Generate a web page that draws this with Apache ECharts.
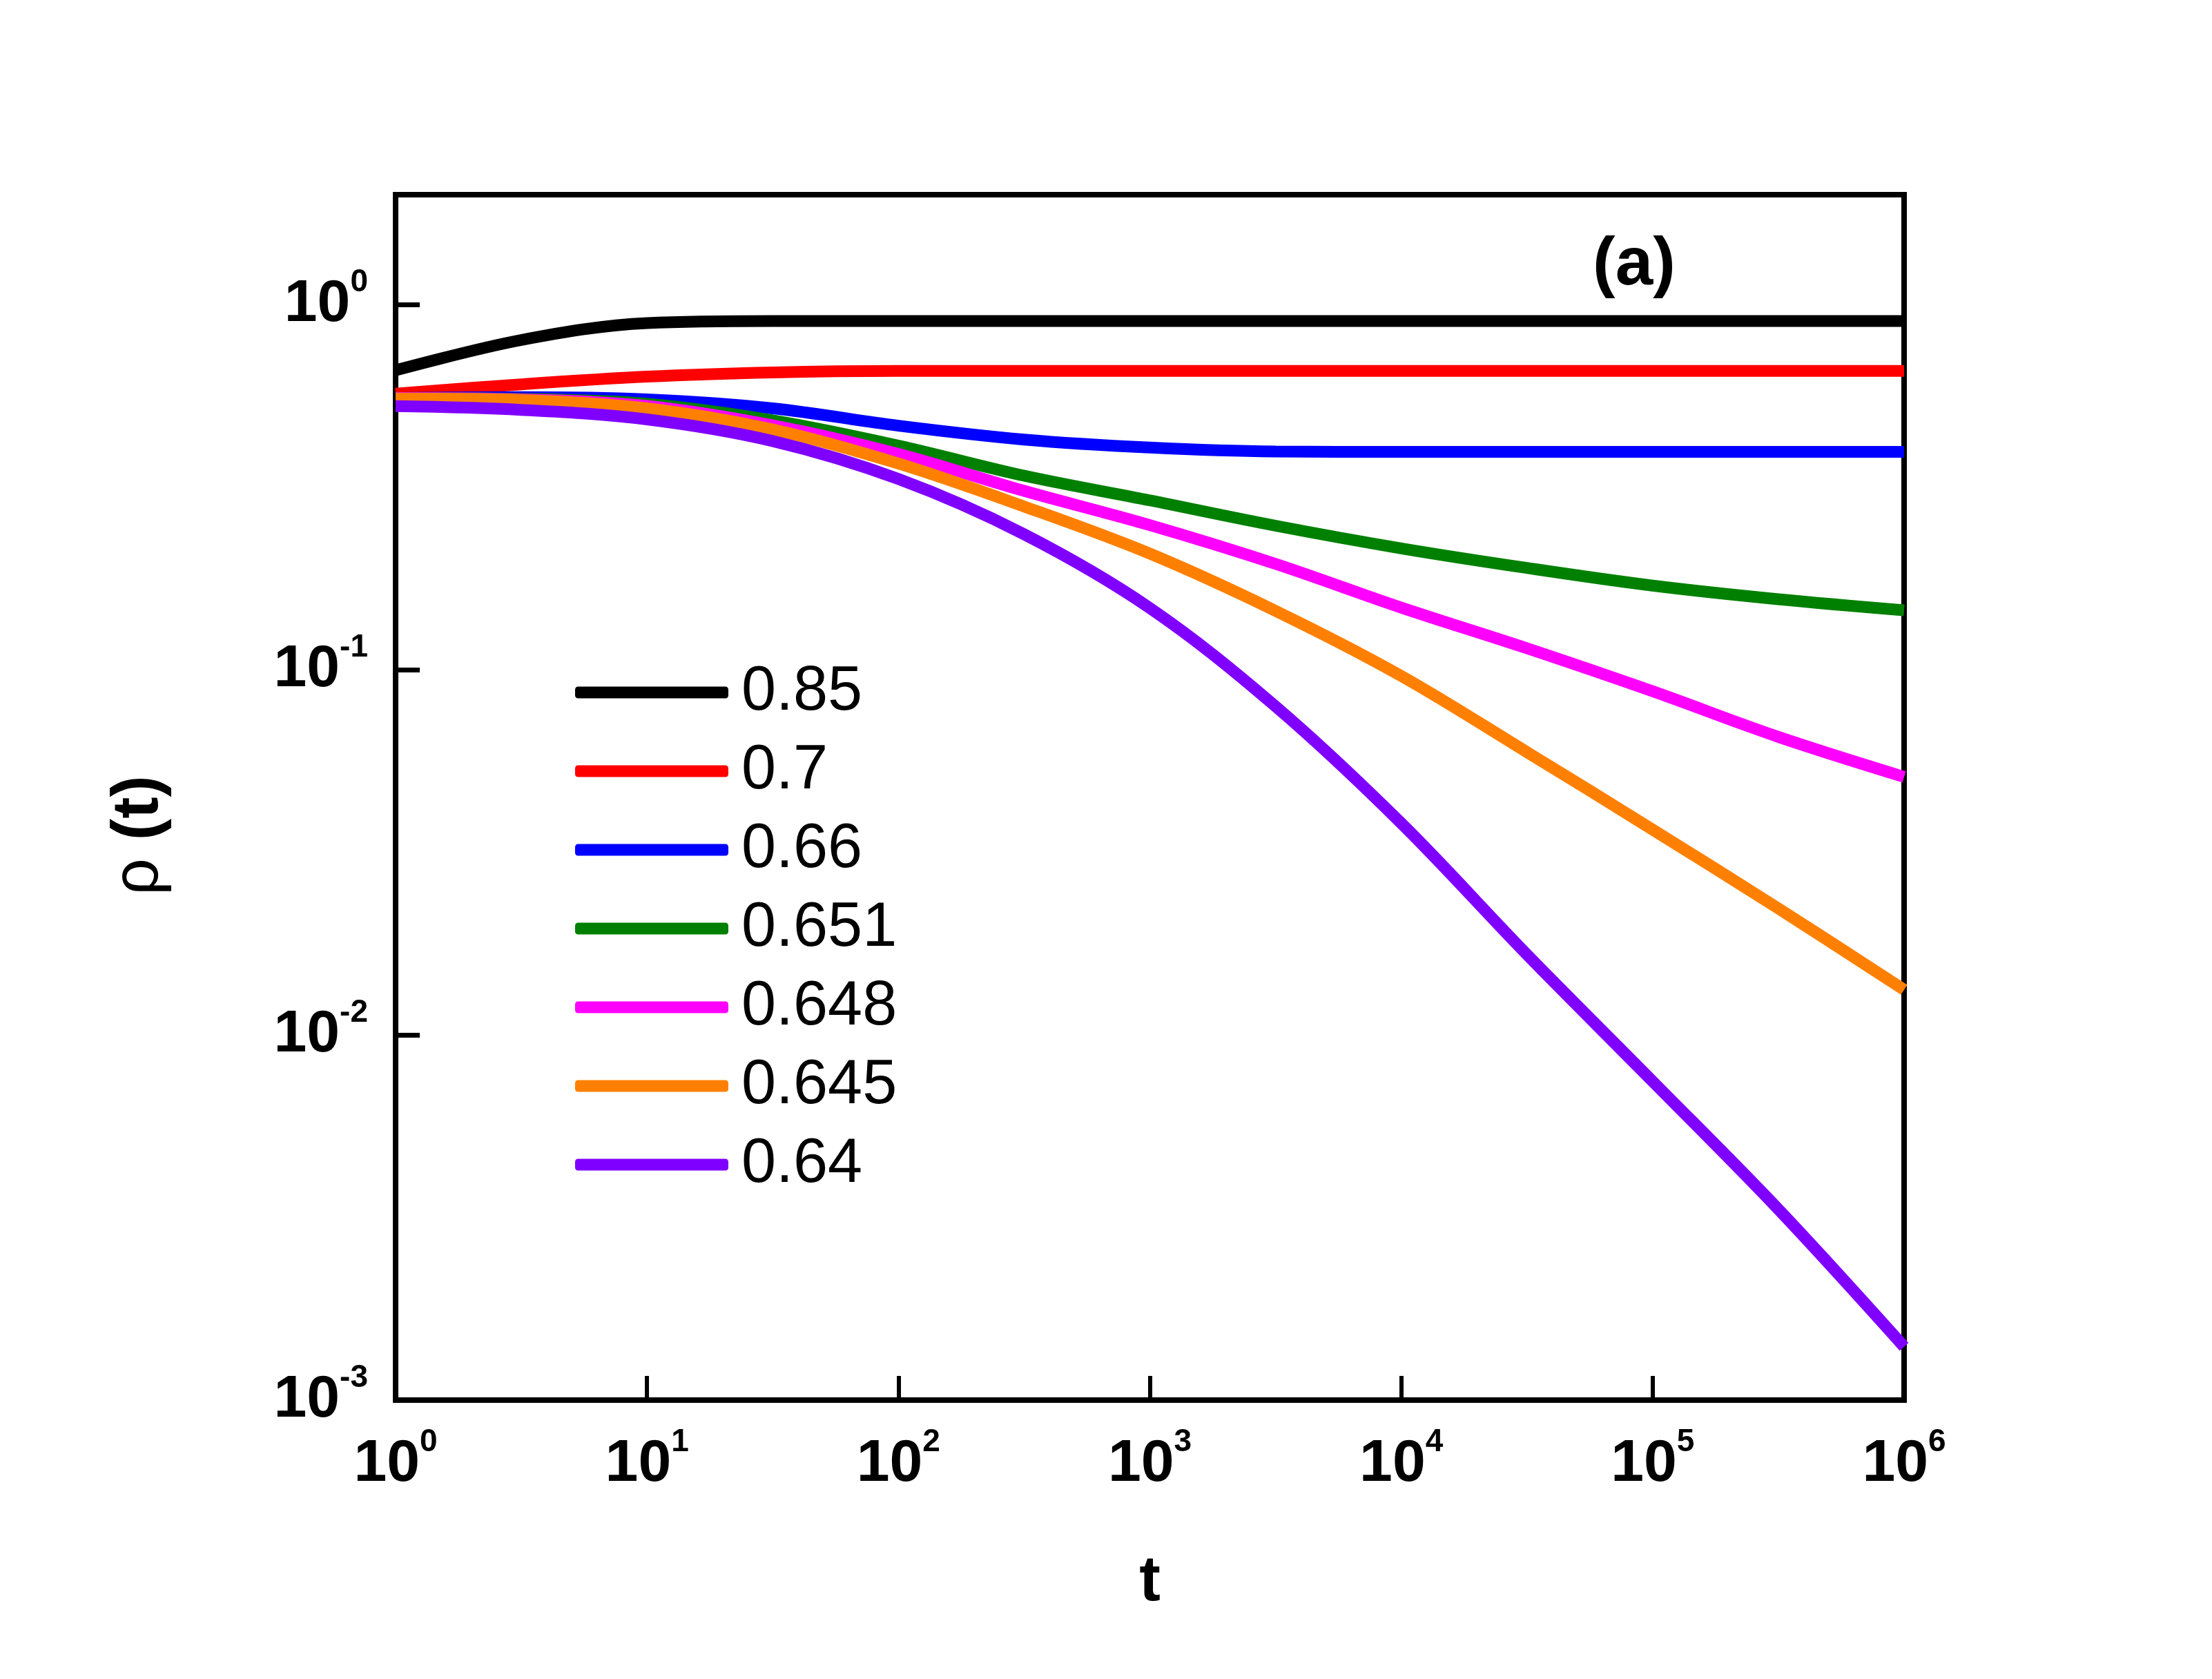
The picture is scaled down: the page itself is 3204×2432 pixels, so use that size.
<!DOCTYPE html>
<html lang="en">
<head>
    <meta charset="UTF-8">
    <title>rho(t)</title>
    <script src="https://cdn.jsdelivr.net/npm/echarts@6/dist/echarts.min.js"></script>
    <style>
        html, body { margin: 0; padding: 0; background: #fff; }
        #main { width: 3204px; height: 2432px; }
    </style>
</head>
<body>
    <div id="main"></div>
    <script type="text/javascript">
        // time steps, half a decade apart (log axis)
        var tValues = [1, 3.162, 10, 31.62, 100, 316.2, 1000, 3162, 1e4, 31623, 1e5, 316228, 1e6];
        // rho(t), one array per curve
        var rho085 = [0.661, 0.80, 0.89, 0.902, 0.902, 0.902, 0.902, 0.902, 0.902, 0.902, 0.902, 0.902, 0.902];
        var rho070 = [0.570, 0.605, 0.635, 0.652, 0.658, 0.658, 0.658, 0.658, 0.658, 0.658, 0.658, 0.658, 0.658];
        var rho066 = [0.555, 0.558, 0.55, 0.52, 0.466, 0.427, 0.406, 0.396, 0.395, 0.395, 0.395, 0.395, 0.395];
        var rho0651 = [0.555, 0.552, 0.535, 0.482, 0.411, 0.340, 0.291, 0.248, 0.215, 0.19, 0.17, 0.156, 0.1455];
        var rho0648 = [0.555, 0.55, 0.528, 0.467, 0.39, 0.309, 0.249, 0.195, 0.148, 0.1145, 0.0873, 0.0655, 0.0509];
        var rho0645 = [0.553, 0.548, 0.52, 0.455, 0.367, 0.28, 0.208, 0.145, 0.0962, 0.0595, 0.0365, 0.0222, 0.0133];
        var rho064 = [0.527, 0.515, 0.485, 0.423, 0.333, 0.235, 0.1476, 0.0794, 0.0380, 0.0166, 0.00746, 0.00333, 0.0014];

        var names = ['0.85', '0.7', '0.66', '0.651', '0.648', '0.645', '0.64'];
        var colors = ['#000000', '#ff0000', '#0000ff', '#008000', '#ff00ff', '#ff8000', '#8000ff'];
        var curves = [rho085, rho070, rho066, rho0651, rho0648, rho0645, rho064];

        var FONT = '"Liberation Sans", Arial, sans-serif';

        // 10^n tick labels, blank for the non-decade end of the y range
        function powLabel(v) {
            var e = Math.log10(v);
            var r = Math.round(e);
            if (Math.abs(e - r) > 1e-6) return '';
            return '{b|10}{s|' + r + '}';
        }
        var powRich = {
            b: { fontFamily: FONT, fontWeight: 'bold', fontSize: 86, lineHeight: 110, color: '#000', verticalAlign: 'middle' },
            s: { fontFamily: FONT, fontWeight: 'bold', fontSize: 46, lineHeight: 50, color: '#000', verticalAlign: 'top' }
        };

        var series = [];
        for (let i = 0; i < curves.length; i++) {
            let pts = [];
            for (let j = 0; j < tValues.length; j++) {
                pts.push([tValues[j], curves[i][j]]);
            }
            series.push({
                name: names[i],
                type: 'line',
                data: pts,
                smooth: 0.35,
                showSymbol: false,
                color: colors[i],
                lineStyle: { width: 17, color: colors[i] }
            });
        }

        var myChart = echarts.init(document.getElementById('main'));
        myChart.setOption({
            animation: false,
            backgroundColor: '#fff',
            grid: {
                left: 573, top: 282, right: 446, bottom: 404,
                show: true, borderColor: '#000', borderWidth: 8
            },
            legend: {
                orient: 'vertical',
                left: 828,
                top: 948,
                icon: 'roundRect',
                itemWidth: 222,
                itemHeight: 17,
                itemGap: 14,
                textStyle: {
                    fontFamily: FONT,
                    fontSize: 90,
                    lineHeight: 100,
                    color: '#000',
                    padding: [0, 0, 0, 14]
                },
                data: names
            },
            graphic: [{
                type: 'text',
                style: {
                    x: 2367,
                    y: 385,
                    text: '(a)',
                    font: 'bold 98px ' + FONT,
                    fill: '#000',
                    align: 'center',
                    verticalAlign: 'middle'
                }
            }],
            xAxis: {
                type: 'log',
                logBase: 10,
                min: 1,
                max: 1e6,
                splitNumber: 6,
                name: 't',
                nameLocation: 'middle',
                nameGap: 219,
                nameTextStyle: { fontFamily: FONT, fontWeight: 'bold', fontSize: 92, color: '#000' },
                axisLine: { lineStyle: { color: '#000', width: 8 } },
                axisTick: { inside: true, length: 35, lineStyle: { color: '#000', width: 6 } },
                axisLabel: { margin: 38, formatter: powLabel, rich: powRich },
                splitLine: { show: false },
                minorTick: { show: false }
            },
            yAxis: {
                type: 'log',
                logBase: 10,
                min: 0.001,
                max: 2,
                splitNumber: 4,
                name: '{r|ρ}{b| (t)}',
                nameLocation: 'middle',
                nameRotate: 90,
                nameGap: 324,
                nameTextStyle: {
                    padding: [0, 110, 0, 0],
                    rich: {
                        r: { fontFamily: FONT, fontSize: 94, color: '#000' },
                        b: { fontFamily: FONT, fontWeight: 'bold', fontSize: 94, color: '#000' }
                    }
                },
                axisLine: { lineStyle: { color: '#000', width: 8 } },
                axisTick: { inside: true, length: 35, lineStyle: { color: '#000', width: 7 } },
                axisLabel: { margin: 40, formatter: powLabel, rich: powRich },
                splitLine: { show: false },
                minorTick: { show: false }
            },
            series: series
        });
    </script>
</body>
</html>
